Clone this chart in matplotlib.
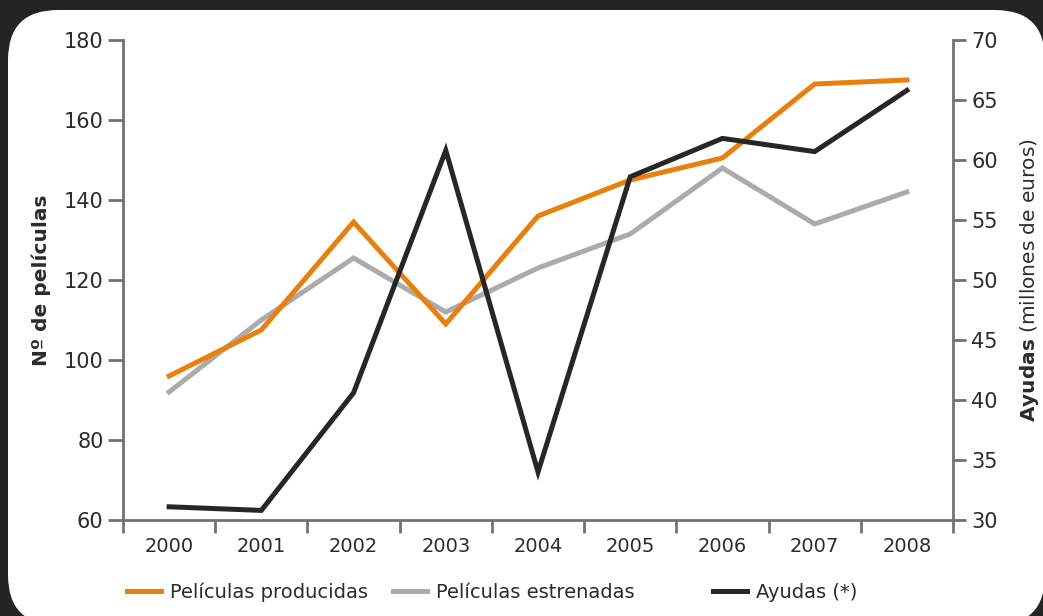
import matplotlib.pyplot as plt
from matplotlib.patches import FancyBboxPatch
from matplotlib.transforms import IdentityTransform
from matplotlib.ticker import FixedLocator

years = ['2000', '2001', '2002', '2003', '2004', '2005', '2006', '2007', '2008']
producidas = [96, 107.5, 134.5, 109, 136, 145, 150.5, 169, 170]
estrenadas = [92, 110, 125.5, 112, 123, 131.5, 148, 134, 142]
ayudas = [31.1, 30.8, 40.6, 60.8, 34, 58.6, 61.8, 60.7, 65.8]
series_names = ['Películas producidas', 'Películas estrenadas', 'Ayudas (*)']

c_orange = '#e8800e'
c_gray = '#ababab'
c_black = '#262626'
c_axis = '#727272'
c_text = '#2b2b2b'

fig = plt.figure(figsize=(10.43, 6.16), dpi=100)
fig.patch.set_facecolor('#242424')

# white rounded panel (pixels)
panel = FancyBboxPatch((8, -9), 1037, 615, boxstyle='round,pad=0,rounding_size=50',
                       transform=IdentityTransform(), facecolor='white',
                       edgecolor='none', zorder=0)
fig.add_artist(panel)

ax = fig.add_axes([123 / 1043, 1 - 520 / 616, 830 / 1043, 480 / 616])
ax.set_facecolor('none')
ax2 = ax.twinx()

x = list(range(len(years)))
l1, = ax.plot(x, producidas, color=c_orange, lw=3.6, solid_joinstyle='miter', zorder=3)
l2, = ax.plot(x, estrenadas, color=c_gray, lw=3.6, solid_joinstyle='miter', zorder=2)
l3, = ax2.plot(x, ayudas, color=c_black, lw=3.6, solid_joinstyle='miter', zorder=4)

ax.set_xlim(-0.5, len(years) - 0.5)
ax.set_ylim(60, 180)
ax2.set_ylim(30, 70)
ax.set_yticks(range(60, 181, 20))
ax2.set_yticks(range(30, 71, 5))

ax.set_xticks(x)
ax.set_xticklabels(years)
ax.xaxis.set_minor_locator(FixedLocator([i - 0.5 for i in range(len(years) + 1)]))
ax.tick_params(axis='x', which='major', length=0, pad=12, labelsize=14, labelcolor=c_text)
ax.tick_params(axis='x', which='minor', length=9, width=2, color=c_axis)
ax.tick_params(axis='y', length=11, width=2, color=c_axis, labelsize=15,
               labelcolor=c_text, pad=3)
ax2.tick_params(axis='y', length=9, width=2, color=c_axis, labelsize=15,
                labelcolor=c_text, pad=4)

for a in (ax, ax2):
    for s in a.spines.values():
        s.set_visible(False)
ax.spines['left'].set_visible(True)
ax.spines['bottom'].set_visible(True)
ax2.spines['right'].set_visible(True)
for s in (ax.spines['left'], ax.spines['bottom'], ax2.spines['right']):
    s.set_color(c_axis)
    s.set_linewidth(2)

ax.set_ylabel('Nº de películas', fontsize=14.5, fontweight='bold', color=c_text)
ax.yaxis.set_label_coords(-0.087, 0.5)
ax2.set_ylabel(r'$\mathbf{Ayudas}$ (millones de euros)', fontsize=14.5, color=c_text)
ax2.yaxis.set_label_coords(1.078, 0.5)

# legend entries placed one by one along the bottom
for handle, name, px in zip([l1, l2, l3], series_names, [127, 393, 713]):
    leg = fig.legend([handle], [name], loc='center left',
                     bbox_to_anchor=(px / 1043, 1 - 592 / 616),
                     frameon=False, fontsize=14, handlelength=1.75, handletextpad=0.45,
                     borderpad=0, borderaxespad=0, labelcolor=c_text)

fig.savefig('out.png', dpi=100, facecolor=fig.get_facecolor())
